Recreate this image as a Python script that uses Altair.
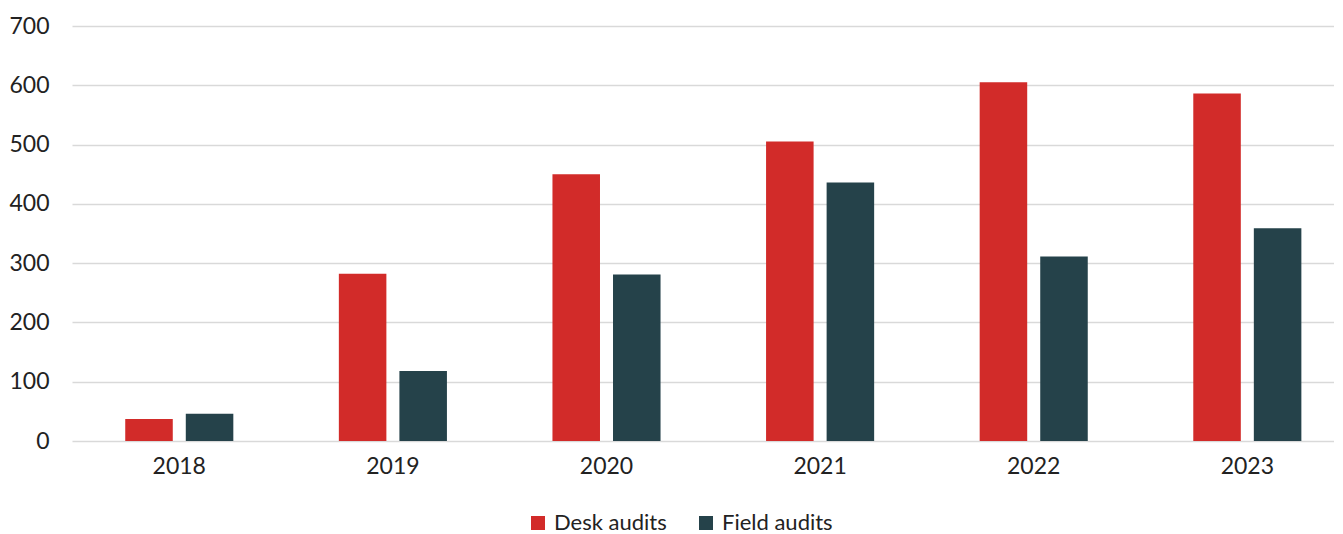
import altair as alt
import pandas as pd

years = ["2018", "2019", "2020", "2021", "2022", "2023"]
desk = [37, 282, 450, 505, 605, 586]
field = [46, 118, 281, 436, 311, 359]
series = ["Desk audits", "Field audits"]
colors = ["#D22B29", "#25424A"]

rows = []
for i, y in enumerate(years):
    rows.append({"year": y, "type": series[0], "value": desk[i]})
    rows.append({"year": y, "type": series[1], "value": field[i]})
df = pd.DataFrame(rows)

FONT = "Lato"
FS = 23

chart = alt.Chart(df).mark_bar().encode(
    x=alt.X("year:N", title=None, sort=years,
            scale=alt.Scale(paddingInner=0.494, paddingOuter=0.201, align=0.62),
            axis=alt.Axis(labelAngle=0, labelFontSize=FS, labelFont=FONT,
                          labelColor="#222222", labelPadding=14,
                          ticks=False, domain=False)),
    xOffset=alt.XOffset("type:N", sort=series,
                        scale=alt.Scale(paddingInner=0.215)),
    y=alt.Y("value:Q", title=None,
            scale=alt.Scale(domain=[0, 700]),
            axis=alt.Axis(values=[0, 100, 200, 300, 400, 500, 600, 700],
                          labelFontSize=FS, labelFont=FONT,
                          labelColor="#222222", labelPadding=23,
                          ticks=False, domain=False,
                          gridColor="#d9d9d9", gridWidth=1.5)),
    color=alt.Color("type:N", sort=series,
                    scale=alt.Scale(domain=series, range=colors),
                    legend=alt.Legend(title=None, orient="none",
                                      legendX=455, legendY=486,
                                      direction="horizontal",
                                      symbolType="square", symbolSize=196,
                                      symbolStrokeWidth=0,
                                      labelFontSize=22, labelFont=FONT,
                                      labelColor="#222222",
                                      columnPadding=28, labelOffset=5)),
).properties(
    width=1262, height=415,
    padding={"top": 7, "left": 0, "right": 0, "bottom": 0},
).configure_view(stroke=None)

chart.save("out.html", embed_options={"renderer": "svg", "actions": False})
